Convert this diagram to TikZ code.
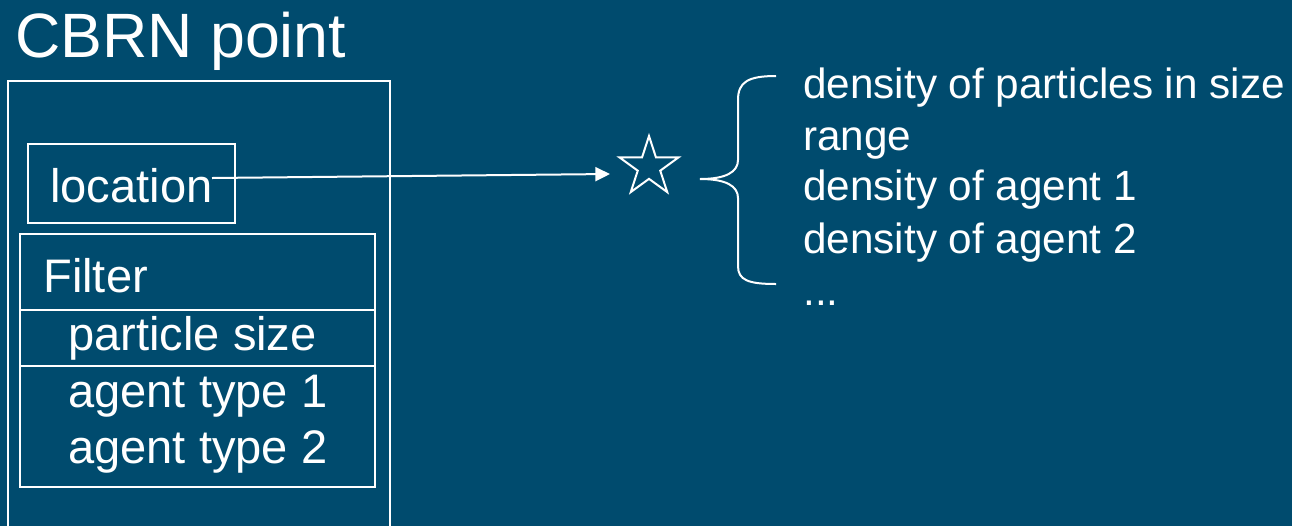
\documentclass[tikz,border=0pt]{standalone}
\usepackage{fontspec}
\setmainfont{Liberation Sans}
\usetikzlibrary{shapes.geometric,arrows.meta}
\definecolor{bg}{HTML}{004B6E}
\tikzset{
  frame/.style={draw=white,line width=1.5pt},
  titletext/.style={text=white,anchor=base west,inner sep=0pt,font=\fontsize{47}{56}\selectfont},
  lefttext/.style={text=white,anchor=base west,inner sep=0pt,font=\fontsize{35.3}{42}\selectfont},
  righttext/.style={text=white,anchor=base west,inner sep=0pt,font=\fontsize{31.7}{38}\selectfont},
}
\begin{document}
\begin{tikzpicture}[x=0.75pt,y=-0.75pt]
  % canvas
  \useasboundingbox (0,0) rectangle (1292,526);
  \fill[bg] (0,0) rectangle (1292,526);
  \clip (0,0) rectangle (1292,526);

  % heading
  \node[titletext] (title) at (15,57) {CBRN point};

  % outer frame of the point (runs off the bottom edge)
  \draw[frame] (8,81) rectangle (390,560);

  % location box
  \node[frame,inner sep=0pt,minimum width=207*0.75pt,minimum height=79*0.75pt] (locbox) at (131.5,183.5) {};
  \node[lefttext] (loctext) at (50,202) {location};

  % filter box with its rows
  \node[frame,inner sep=0pt,minimum width=355*0.75pt,minimum height=253*0.75pt] (filter) at (197.5,360.5) {};
  \draw[frame] (filter.west |- 0,310) -- (filter.east |- 0,310);
  \draw[frame] (filter.west |- 0,366) -- (filter.east |- 0,366);
  \node[lefttext] (filtertitle) at (43,292) {Filter};
  \node[lefttext] (psize) at (68,350) {particle size};
  \node[lefttext] (agent1) at (68,407) {agent type 1};
  \node[lefttext] (agent2) at (68,463) {agent type 2};

  % measurement point marker
  \node[star,star points=5,star point ratio=2.618,draw=white,line width=1.5pt,
        inner sep=0pt,minimum size=62*0.75pt] (star) at (649,167) {};

  % link from the location to the marker
  \coordinate (locend) at (212,178);
  \coordinate (starin) at (610,174);
  \draw[white,line width=1.5pt,-{Triangle[length=11pt,width=10.5pt]}] (locend) -- (starin);

  % brace
  \draw[white,line width=1.5pt] (776,76) .. controls (748,76) and (738,82) .. (738,100)
    -- (738,160) .. controls (738,172) and (726,179) .. (700,179)
    .. controls (726,179) and (738,186) .. (738,198)
    -- (738,266) .. controls (738,280) and (748,284) .. (776,284);

  % measured values
  \node[righttext] (r1) at (803,98) {density of particles in size};
  \node[righttext] (r2) at (803,150) {range};
  \node[righttext] (r3) at (803,200) {density of agent 1};
  \node[righttext] (r4) at (803,253) {density of agent 2};
  \node[righttext] (r5) at (803,305) {...};
\end{tikzpicture}
\end{document}
